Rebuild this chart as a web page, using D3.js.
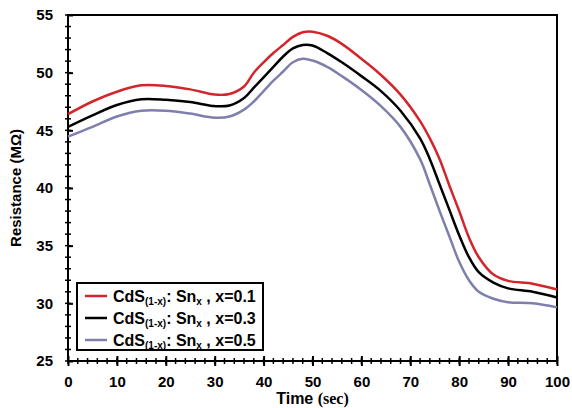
<!DOCTYPE html>
<html>
<head>
<meta charset="utf-8">
<script src="https://cdn.jsdelivr.net/npm/d3@7"></script>
<style>
  body { margin: 0; background: #fff; }
  text { font-family: "Liberation Sans", Arial, sans-serif; font-weight: bold; }
</style>
</head>
<body>
<div id="chart-area"></div>
<script>
// time grid (sec)
let time = [0, 5, 10, 15, 20, 25, 30, 33, 36, 38, 40, 42, 44, 46, 48, 50, 53, 56, 60, 64, 68, 72, 74, 76, 78, 80, 82, 84, 87, 90, 95, 100];

// resistance (MOhm) for each composition
let x01 = [46.4, 47.5, 48.35, 48.9, 48.85, 48.55, 48.1, 48.15, 48.8, 50.0, 50.9, 51.7, 52.4, 53.1, 53.5, 53.55, 53.2, 52.5, 51.2, 49.8, 48.1, 45.8, 44.3, 42.5, 40.2, 38.0, 35.7, 34.0, 32.5, 31.95, 31.7, 31.2];
let x03 = [45.3, 46.3, 47.2, 47.7, 47.65, 47.45, 47.1, 47.15, 47.8, 48.7, 49.6, 50.5, 51.4, 52.1, 52.4, 52.35, 51.7, 50.9, 49.7, 48.4, 46.7, 44.3, 42.5, 40.3, 38.1, 35.9, 34.0, 32.7, 31.8, 31.3, 31.0, 30.5];
let x05 = [44.45, 45.3, 46.2, 46.7, 46.7, 46.45, 46.1, 46.2, 46.8, 47.5, 48.4, 49.3, 50.1, 50.9, 51.2, 51.05, 50.5, 49.7, 48.5, 47.1, 45.3, 42.5, 40.3, 38.0, 35.8, 33.6, 32.0, 31.0, 30.4, 30.1, 30.0, 29.65];

let seriesX = ["0.1", "0.3", "0.5"];
let xTicks = [0, 10, 20, 30, 40, 50, 60, 70, 80, 90, 100];
let yTicks = [25, 30, 35, 40, 45, 50, 55];

let series = [
  { name: seriesX[0], values: x01, color: "#d2262c" },
  { name: seriesX[1], values: x03, color: "#000000" },
  { name: seriesX[2], values: x05, color: "#7f7fae" }
];

let svgW = 572;
let svgH = 408;
let margin = { left: 68, right: 15, top: 15, bottom: 47 };
let chartW = svgW - margin.left - margin.right;
let chartH = svgH - margin.top - margin.bottom;

let svg = d3.select("#chart-area")
  .append("svg")
  .attr("width", svgW)
  .attr("height", svgH);

let group = svg.append("g")
  .attr("transform", `translate(${margin.left},${margin.top})`);

let x = d3.scaleLinear().domain([0, 100]).range([0, chartW]);
let y = d3.scaleLinear().domain([25, 55]).range([chartH, 0]);

// frame
group.append("rect")
  .attr("width", chartW)
  .attr("height", chartH)
  .attr("fill", "none")
  .attr("stroke", "#000")
  .attr("stroke-width", 2);

// minor ticks (crossing the axis)
let minorX = d3.range(0, 101, 2);
let minorY = d3.range(25, 56, 1);

group.selectAll(".mx")
  .data(minorX)
  .enter().append("line")
  .attr("x1", d => x(d)).attr("x2", d => x(d))
  .attr("y1", chartH - 3).attr("y2", chartH + 3)
  .attr("stroke", "#000").attr("stroke-width", 1.5);

group.selectAll(".my")
  .data(minorY)
  .enter().append("line")
  .attr("x1", -3).attr("x2", 3)
  .attr("y1", d => y(d)).attr("y2", d => y(d))
  .attr("stroke", "#000").attr("stroke-width", 1.5);

// major ticks + labels
let xAxis = d3.axisBottom(x).tickValues(xTicks).tickSize(5).tickPadding(10);
let yAxis = d3.axisLeft(y).tickValues(yTicks).tickSize(5).tickPadding(10);

let gx = group.append("g")
  .attr("transform", `translate(0, ${chartH})`)
  .call(xAxis);
let gy = group.append("g").call(yAxis);

[gx, gy].forEach(g => {
  g.select(".domain").remove();
  g.selectAll(".tick line").attr("stroke-width", 2);
  g.selectAll(".tick text")
    .attr("font-family", "Liberation Sans, Arial, sans-serif")
    .attr("font-weight", "bold")
    .attr("font-size", 15)
    .attr("fill", "#000");
});
gx.selectAll(".tick line").attr("y1", -5);
gy.selectAll(".tick line").attr("x2", 5);

// lines
let line = d3.line()
  .x((d, i) => x(time[i]))
  .y(d => y(d))
  .curve(d3.curveCatmullRom.alpha(0.5));

group.selectAll(".series")
  .data(series)
  .enter().append("path")
  .attr("fill", "none")
  .attr("stroke", d => d.color)
  .attr("stroke-width", 2.5)
  .attr("d", d => line(d.values));

// axis titles
let xt = svg.append("text")
  .attr("x", margin.left + chartW / 2)
  .attr("y", 404)
  .attr("text-anchor", "middle")
  .attr("font-size", 16);
xt.append("tspan").text("Time ");
xt.append("tspan")
  .style("font-family", "Liberation Serif, Times New Roman, serif")
  .text("(sec)");

svg.append("text")
  .attr("transform", `translate(21, ${margin.top + chartH / 2}) rotate(-90)`)
  .attr("text-anchor", "middle")
  .attr("font-size", 15)
  .text("Resistance (MΩ)");

// legend
let legend = group.append("g")
  .attr("transform", `translate(${77 - margin.left}, ${283 - margin.top})`);

legend.append("rect")
  .attr("width", 186)
  .attr("height", 67)
  .attr("fill", "#fff")
  .attr("stroke", "#000")
  .attr("stroke-width", 2);

let rows = legend.selectAll(".row")
  .data(series)
  .enter().append("g")
  .attr("transform", (d, i) => `translate(0, ${13 + i * 22})`);

rows.append("line")
  .attr("x1", 8).attr("x2", 30)
  .attr("stroke", d => d.color)
  .attr("stroke-width", 2.5);

let lt = rows.append("text")
  .attr("x", 36)
  .attr("y", 5.5)
  .attr("font-size", 16);
lt.append("tspan").text("CdS");
lt.append("tspan").attr("font-size", 10).attr("dy", 3).text("(1-x)");
lt.append("tspan").attr("dy", -3).text(": Sn");
lt.append("tspan").attr("font-size", 10).attr("dy", 3).text("x");
lt.append("tspan").attr("dy", -3).text(d => " , x=" + d.name);
</script>
</body>
</html>
